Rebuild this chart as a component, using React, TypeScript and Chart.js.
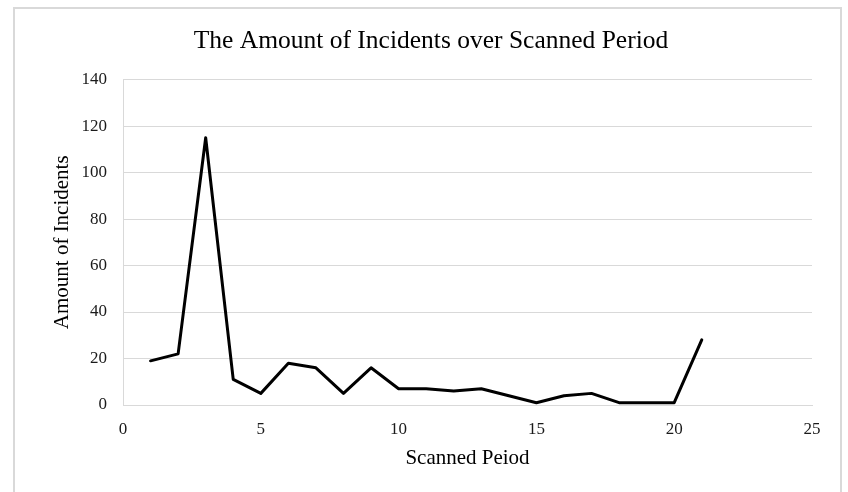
import React, { useEffect, useRef } from "react";
import { Chart, registerables } from "chart.js";

Chart.register(...registerables);

const periods = [1, 2, 3, 4, 5, 6, 7, 8, 9, 10, 11, 12, 13, 14, 15, 16, 17, 18, 19, 20, 21];
const incidents = [19, 22, 115, 11, 5, 18, 16, 5, 16, 7, 7, 6, 7, 4, 1, 4, 5, 1, 1, 1, 28];
const chartTitle = "The Amount of Incidents over Scanned Period";
const xTitle = "Scanned Peiod";
const yTitle = "Amount of Incidents";

const FONT = "'Liberation Serif', 'Times New Roman', serif";

export default function App() {
  const ref = useRef<HTMLCanvasElement | null>(null);

  useEffect(() => {
    if (!ref.current) return;
    const chart = new Chart(ref.current, {
      type: "line",
      data: {
        datasets: [
          {
            data: periods.map((p, i) => ({ x: p, y: incidents[i] })),
            borderColor: "#000000",
            backgroundColor: "#000000",
            borderWidth: 3,
            borderJoinStyle: "round",
            borderCapStyle: "round",
            pointRadius: 0,
            tension: 0,
            fill: false,
          },
        ],
      },
      options: {
        animation: false,
        responsive: false,
        maintainAspectRatio: false,
        layout: { padding: { left: 50, right: 36, top: 0, bottom: 0 } },
        plugins: {
          legend: { display: false },
          tooltip: { enabled: false },
          title: {
            display: true,
            text: chartTitle,
            color: "#000000",
            font: { family: FONT, size: 25.5, weight: "normal" },
            padding: { top: 26, bottom: 23 },
          },
        },
        scales: {
          x: {
            type: "linear",
            min: 0,
            max: 25,
            ticks: { stepSize: 5, color: "#1a1a1a", padding: 14, font: { family: FONT, size: 17 } },
            grid: { display: false, drawTicks: false },
            border: { display: true, color: "#d9d9d9", width: 1 },
            title: {
              display: true,
              text: xTitle,
              color: "#000000",
              font: { family: FONT, size: 21 },
              padding: { top: 0, bottom: 21 },
            },
            afterFit: (s: any) => {
              s.height = 87;
            },
          },
          y: {
            type: "linear",
            min: 0,
            max: 140,
            ticks: { stepSize: 20, color: "#1a1a1a", padding: 16, font: { family: FONT, size: 17 } },
            grid: { color: "#d9d9d9", lineWidth: 1, drawTicks: false },
            border: { display: true, color: "#d9d9d9", width: 1 },
            title: {
              display: true,
              text: yTitle,
              color: "#000000",
              font: { family: FONT, size: 21 },
              padding: { top: 0, bottom: 0 },
            },
            afterFit: (s: any) => {
              s.width = 73;
            },
          },
        },
      },
    });
    return () => chart.destroy();
  }, []);

  return (
    <div style={{ position: "absolute", left: 0, top: 0, width: 848, height: 492, overflow: "hidden", background: "#ffffff" }}>
      <div
        style={{
          position: "absolute",
          left: 13,
          top: 7,
          width: 829,
          height: 520,
          border: "2px solid #d9d9d9",
          boxSizing: "border-box",
        }}
      />
      <canvas ref={ref} width={848} height={492} style={{ position: "absolute", left: 0, top: 0, width: 848, height: 492 }} />
    </div>
  );
}
